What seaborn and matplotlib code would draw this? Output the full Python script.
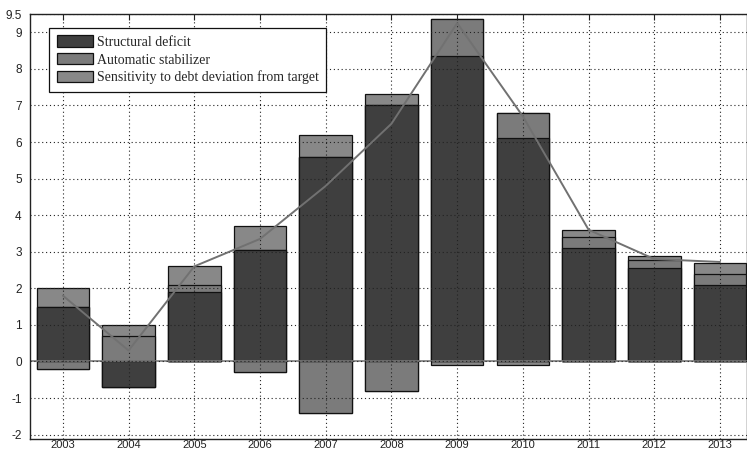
import numpy as np
import pandas as pd
import matplotlib
matplotlib.use("Agg")
import matplotlib.pyplot as plt
import seaborn as sns
from matplotlib.patches import Patch

years = ["2003", "2004", "2005", "2006", "2007", "2008", "2009", "2010", "2011", "2012", "2013"]
structural = [1.5, -0.7, 1.9, 3.05, 5.6, 7.0, 8.35, 6.1, 3.1, 2.55, 2.1]
automatic = [-0.2, 0.7, 0.2, -0.3, -1.4, -0.8, 1.0, 0.7, 0.3, 0.22, 0.3]
sensitivity = [0.5, 0.3, 0.5, 0.65, 0.6, 0.3, -0.1, -0.1, 0.2, 0.1, 0.3]
total = [1.8, 0.3, 2.6, 3.35, 4.8, 6.5, 9.25, 6.7, 3.6, 2.8, 2.72]

labels = ["Structural deficit", "Automatic stabilizer", "Sensitivity to debt deviation from target"]
colors = ["#3f3f3f", "#7b7b7b", "#888888"]

sns.set_style("white")
plt.rcParams["font.family"] = ["Liberation Sans", "DejaVu Sans"]

fig = plt.figure(figsize=(7.47, 4.51), dpi=100)
ax = fig.add_axes([30 / 747, 12 / 451, 717 / 747, 425 / 451])

s = np.array(structural)
a = np.array(automatic)
t = np.array(sensitivity)
comps = [s, a, t]
pos = [np.clip(c, 0, None) for c in comps]
neg = [np.clip(c, None, 0) for c in comps]
pos_cum = np.cumsum(pos, axis=0)
neg_cum = np.cumsum(neg, axis=0)

# draw cumulative layers from outermost to innermost
for cum in (pos_cum, neg_cum):
    for i in (2, 1, 0):
        df = pd.DataFrame({"year": years, "v": cum[i]})
        sns.barplot(data=df, x="year", y="v", color=colors[i], saturation=1,
                    width=0.8, edgecolor="#111111", linewidth=0.9, ax=ax, zorder=2)

ax.axhline(0, color="#7a7a7a", lw=1.2, zorder=2.5)

dfl = pd.DataFrame({"x": np.arange(len(years)), "total": total})
sns.lineplot(data=dfl, x="x", y="total", color="#717171", lw=1.4, ax=ax, zorder=4)

ax.set_xlim(-0.5, 10.41)
ax.set_ylim(-2.12, 9.5)
ax.set_xticks(range(len(years)))
ax.set_xticklabels(years)
ax.set_yticks([-2, -1, 0, 1, 2, 3, 4, 5, 6, 7, 8, 9, 9.5])
ax.set_yticklabels(["-2", "-1", "0", "1", "2", "3", "4", "5", "6", "7", "8", "9", "9.5"])
ax.set_xlabel("")
ax.set_ylabel("")

ax.set_axisbelow(False)
ax.grid(True, which="major", linestyle=(0, (1, 2.5)), color="#222222", lw=0.8, zorder=3)
ax.tick_params(direction="in", top=True, right=False, length=4, width=0.8,
               labelsize=8.5, colors="#222222")
ax.tick_params(axis="y", pad=6)
ax.tick_params(axis="x", pad=1, labelsize=8)
for sp in ax.spines.values():
    sp.set_color("#222222")
    sp.set_linewidth(1.0)
    sp.set_zorder(5)

handles = [Patch(facecolor=c, edgecolor="#111111", linewidth=0.9) for c in colors]
leg = ax.legend(handles, labels, loc="upper left", bbox_to_anchor=(0.027, 0.968),
                prop={"family": "Liberation Serif", "size": 10},
                frameon=True, fancybox=False, edgecolor="#111111", framealpha=1,
                handlelength=2.6, handleheight=0.9, labelspacing=0.3,
                borderpad=0.55, handletextpad=0.25, borderaxespad=0)
leg.get_frame().set_linewidth(0.9)
leg.set_zorder(10)

fig.savefig("out.png", dpi=100)
